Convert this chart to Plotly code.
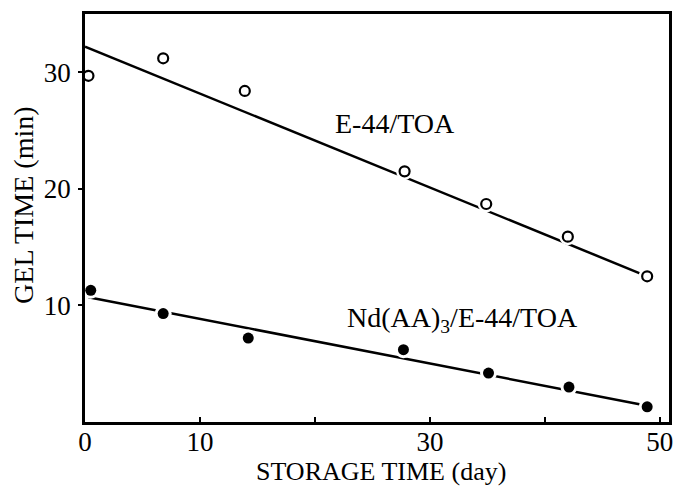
import plotly.graph_objects as go

# Data
days_e44 = [0.3, 6.8, 13.9, 27.8, 34.9, 42.0, 48.9]
gel_e44 = [29.7, 31.2, 28.4, 21.5, 18.7, 15.9, 12.5]
days_nd = [0.5, 6.8, 14.2, 27.7, 35.1, 42.1, 48.9]
gel_nd = [11.3, 9.3, 7.2, 6.2, 4.2, 3.0, 1.3]

fit_e44_x = [0.0, 48.9]
fit_e44_y = [32.2, 12.5]
fit_nd_x = [0.3, 48.9]
fit_nd_y = [10.7, 1.4]

x_tick_vals = [0, 10, 30, 50]
x_tick_text = ["0", "10", "30", "50"]
x_minor_vals = [20, 40]
y_tick_vals = [10, 20, 30]
y_tick_text = ["10", "20", "30"]

serif = "Liberation Serif, DejaVu Serif, serif"

fig = go.Figure()
# regression lines
fig.add_trace(go.Scatter(x=fit_e44_x, y=fit_e44_y, mode="lines",
                         line=dict(color="black", width=2.5), hoverinfo="skip"))
fig.add_trace(go.Scatter(x=fit_nd_x, y=fit_nd_y, mode="lines",
                         line=dict(color="black", width=2.5), hoverinfo="skip"))
# white halos to break the lines around the markers
for xs, ys in [(days_e44, gel_e44), (days_nd, gel_nd)]:
    fig.add_trace(go.Scatter(x=xs, y=ys, mode="markers",
                             marker=dict(color="white", size=17, line=dict(width=0)),
                             hoverinfo="skip"))
fig.add_trace(go.Scatter(x=days_e44, y=gel_e44, mode="markers", name="E-44/TOA",
                         marker=dict(symbol="circle", color="white", size=10,
                                     line=dict(color="black", width=2.2))))
fig.add_trace(go.Scatter(x=days_nd, y=gel_nd, mode="markers", name="Nd(AA)3/E-44/TOA",
                         marker=dict(symbol="circle", color="black", size=11,
                                     line=dict(color="black", width=0))))

fig.add_annotation(x=27.0, y=25.6, text="E-44/TOA", showarrow=False,
                   font=dict(family=serif, size=28, color="black"))
fig.add_annotation(x=32.8, y=8.8, text="Nd(AA)<sub>3</sub>/E-44/TOA", showarrow=False,
                   font=dict(family=serif, size=28, color="black"))

# axis titles as annotations for exact placement
fig.add_annotation(xref="paper", yref="paper", x=0.507, y=0, yshift=-49,
                   xanchor="center", yanchor="middle", showarrow=False,
                   text="STORAGE TIME (day)", font=dict(family=serif, size=26, color="black"))
fig.add_annotation(xref="paper", yref="paper", x=0, xshift=-61, y=0.532,
                   xanchor="center", yanchor="middle", showarrow=False, textangle=-90,
                   text="GEL TIME (min)", font=dict(family=serif, size=28, color="black"))

fig.update_layout(
    width=679, height=488,
    margin=dict(l=85, r=6, t=14, b=66),
    paper_bgcolor="white", plot_bgcolor="white",
    showlegend=False,
    font=dict(family=serif, color="black"),
)
fig.update_xaxes(range=[0, 50.8], tickvals=x_tick_vals, ticktext=x_tick_text,
                 ticks="inside", ticklen=5, tickwidth=1.5, tickcolor="black",
                 minor=dict(tickvals=x_minor_vals, ticks="inside", ticklen=5,
                            tickwidth=1.5, tickcolor="black", showgrid=False),
                 showline=True, linecolor="black", linewidth=2.5, mirror=True,
                 showgrid=False, zeroline=False, ticklabelstandoff=-6,
                 tickfont=dict(family=serif, size=27))
fig.update_yaxes(range=[0, 35], tickvals=y_tick_vals, ticktext=y_tick_text,
                 ticks="outside", ticklen=4, tickwidth=1.5, tickcolor="black",
                 showline=True, linecolor="black", linewidth=2.5, mirror=True,
                 showgrid=False, zeroline=False, ticklabelstandoff=2,
                 tickfont=dict(family=serif, size=27))

fig.write_html("out.html", config={"displayModeBar": False},
               post_script="document.body.style.margin='0px';document.body.style.overflow='hidden';")
